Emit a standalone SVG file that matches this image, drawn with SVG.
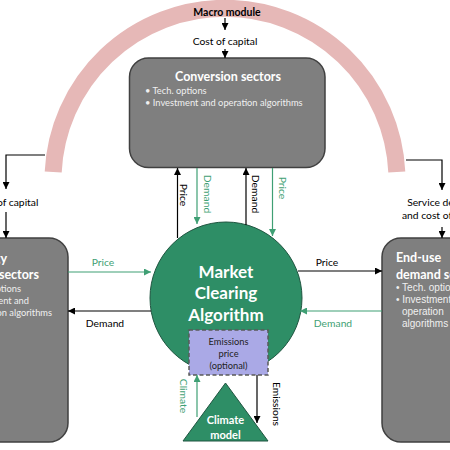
<svg xmlns="http://www.w3.org/2000/svg" width="450" height="450" viewBox="0 0 450 450">
<defs>
<marker id="ab" viewBox="0 0 10 10" refX="10" refY="5" markerWidth="7" markerHeight="7" markerUnits="userSpaceOnUse" orient="auto"><path d="M0,0 L10,5 L0,10 z" fill="#000"/></marker>
<marker id="ag" viewBox="0 0 10 10" refX="10" refY="5" markerWidth="7" markerHeight="7" markerUnits="userSpaceOnUse" orient="auto"><path d="M0,0 L10,5 L0,10 z" fill="#3f9f74"/></marker>
<style>
text{font-family:Lato,"Liberation Sans",sans-serif;}
.box{fill:#7f7f7f;stroke:#404040;stroke-width:1.5;}
.green{fill:#2e8e66;stroke:#1f5540;stroke-width:1;}
.t{font-size:12.5px;font-weight:bold;fill:#fff;}
.b{font-size:9.3px;fill:#f0f0f0;}
.ab{font-family:"Liberation Sans",sans-serif;font-size:10px;fill:#f0f0f0;}
.lb{font-size:10.3px;fill:#000;}
.lg{font-size:10.3px;fill:#3f9f74;}
.cb{stroke:#000;stroke-width:1.2;fill:none;}
.cg{stroke:#3f9f74;stroke-width:1.2;fill:none;}
</style>
</defs>
<g id="macro">
<path d="M53.2,172 A172,172 0 0 1 396.8,172" fill="none" stroke="#e6b8b7" stroke-width="17"/>
<text x="227" y="16" text-anchor="middle" style="font-size:10.5px;font-weight:bold;fill:#000">Macro module</text>
</g>
<g id="conversion">
<rect class="box" x="129.5" y="58" width="195.5" height="109.5" rx="19"/>
<text class="t" x="228" y="81" text-anchor="middle">Conversion sectors</text>
<text class="b" x="145" y="94">• Tech. options</text>
<text class="b" x="145" y="106">• Investment and operation algorithms</text>
</g>
<g id="supply">
<rect class="box" x="-30" y="238" width="98" height="204" rx="19"/>
<text class="t" x="7" y="263" text-anchor="end">Energy</text>
<text class="t" x="39" y="279" text-anchor="end">supply sectors</text>
<text class="b" x="21" y="292" text-anchor="end">• Tech. options</text>
<text class="b" x="29" y="304" text-anchor="end">• Investment and</text>
<text class="b" x="52" y="316" text-anchor="end">operation algorithms</text>
</g>
<g id="enduse">
<rect class="box" x="382" y="238" width="100" height="204" rx="19"/>
<text class="t" x="396" y="262">End-use</text>
<text class="t" x="396" y="279">demand sectors</text>
<text class="ab" x="396" y="291">• Tech. options</text>
<text class="ab" x="396" y="303">• Investment and</text>
<text class="ab" x="402" y="315">operation</text>
<text class="ab" x="402" y="327">algorithms</text>
</g>
<g id="market">
<circle class="green" cx="226" cy="298" r="76"/>
<text x="226" y="278" text-anchor="middle" style="font-size:17px;font-weight:bold;fill:#fff">Market</text>
<text x="226" y="299" text-anchor="middle" style="font-size:17px;font-weight:bold;fill:#fff">Clearing</text>
<text x="226" y="321" text-anchor="middle" style="font-size:17px;font-weight:bold;fill:#fff">Algorithm</text>
</g>
<g id="emissions">
<rect x="189" y="330" width="79" height="45" fill="#aaa9e6" stroke="#595959" stroke-width="1.5" stroke-dasharray="4,2.5"/>
<text x="228.5" y="345" text-anchor="middle" style="font-size:9.3px;fill:#222">Emissions</text>
<text x="228.5" y="357" text-anchor="middle" style="font-size:9.3px;fill:#222">price</text>
<text x="228.5" y="369" text-anchor="middle" style="font-size:9.3px;fill:#222">(optional)</text>
</g>
<g id="climate">
<path class="green" d="M225.5,383 L268,441 L183,441 Z"/>
<text x="225.5" y="424" text-anchor="middle" style="font-size:11px;font-weight:bold;fill:#fff">Climate</text>
<text x="225.5" y="439" text-anchor="middle" style="font-size:11px;font-weight:bold;fill:#fff">model</text>
</g>
<g id="connectors">
<path class="cb" d="M225,18 L225,30" marker-end="url(#ab)"/>
<text class="lb" x="225" y="45" text-anchor="middle">Cost of capital</text>
<path class="cb" d="M225,49 L225,58" marker-end="url(#ab)"/>
<path class="cb" d="M45,155 L6,155 L6,189" marker-end="url(#ab)"/>
<text class="lb" x="6" y="206" text-anchor="middle">Cost of capital</text>
<path class="cb" d="M6,212 L6,238" marker-end="url(#ab)"/>
<path class="cb" d="M406,160 L442,160 L442,190" marker-end="url(#ab)"/>
<text class="lb" x="443" y="206" text-anchor="middle">Service demand</text>
<text class="lb" x="443" y="219" text-anchor="middle">and cost of capital</text>
<path class="cb" d="M442,227 L442,238" marker-end="url(#ab)"/>
<path class="cb" d="M177.5,238 L177.5,168" marker-end="url(#ab)"/>
<text class="lb" transform="translate(180,195) rotate(90)" text-anchor="middle">Price</text>
<path class="cg" d="M197,168 L197,224" marker-end="url(#ag)"/>
<text class="lg" transform="translate(203.5,194) rotate(90)" text-anchor="middle">Demand</text>
<path class="cb" d="M246,225 L246,168" marker-end="url(#ab)"/>
<text class="lb" transform="translate(252,194) rotate(90)" text-anchor="middle">Demand</text>
<path class="cg" d="M272.5,168 L272.5,236" marker-end="url(#ag)"/>
<text class="lg" transform="translate(278.5,188) rotate(90)" text-anchor="middle">Price</text>
<path class="cg" d="M68,272 L151,272" marker-end="url(#ag)"/>
<text class="lg" x="103" y="266" text-anchor="middle">Price</text>
<path class="cb" d="M151,311 L68,311" marker-end="url(#ab)"/>
<text class="lb" x="105" y="327" text-anchor="middle">Demand</text>
<path class="cb" d="M298,271 L382,271" marker-end="url(#ab)"/>
<text class="lb" x="327" y="266" text-anchor="middle">Price</text>
<path class="cg" d="M382,311 L300,311" marker-end="url(#ag)"/>
<text class="lg" x="333" y="327" text-anchor="middle">Demand</text>
<path class="cg" d="M197,417 L197,375" marker-end="url(#ag)"/>
<text class="lg" transform="translate(180,396) rotate(90)" text-anchor="middle">Climate</text>
<path class="cb" d="M257,375 L257,423" marker-end="url(#ab)"/>
<text class="lb" transform="translate(273,404) rotate(90)" text-anchor="middle">Emissions</text>
</g>
</svg>
